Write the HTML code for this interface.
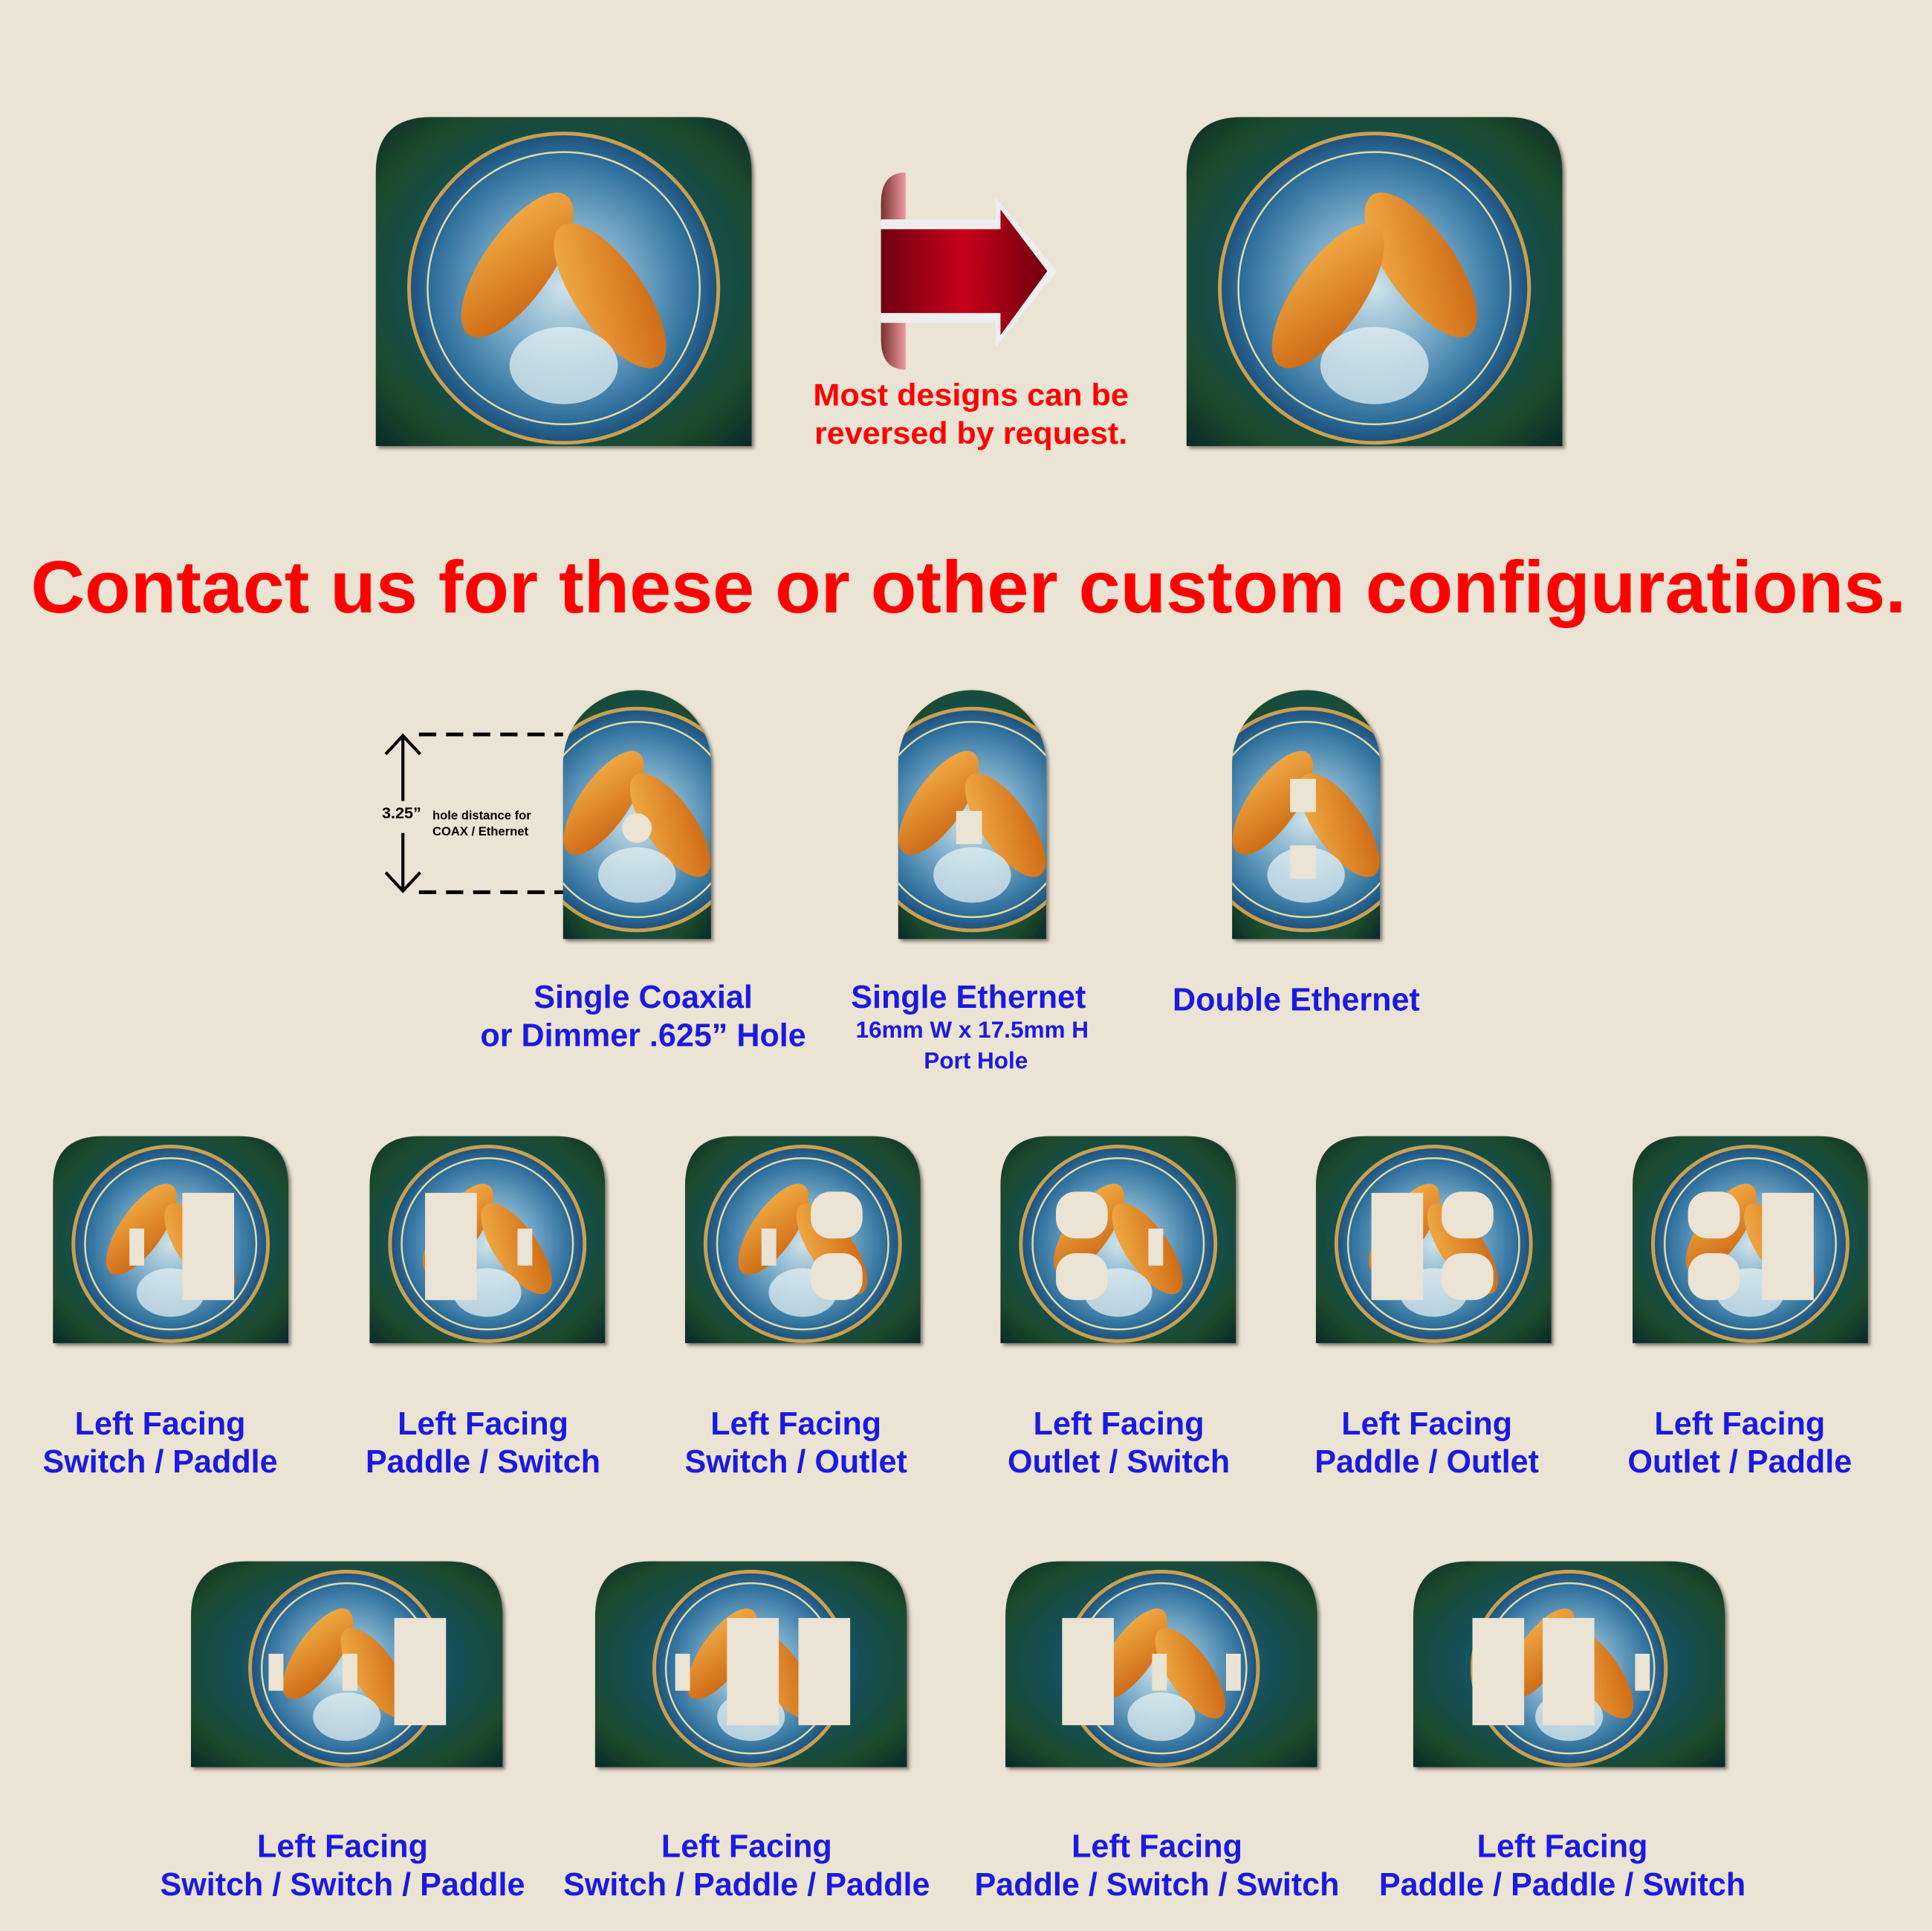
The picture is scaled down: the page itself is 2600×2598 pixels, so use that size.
<!DOCTYPE html>
<html><head><meta charset="utf-8"><style>
html,body{margin:0;padding:0;background:#ebe3d3;}
svg{display:block;}
text{font-family:"Liberation Sans",sans-serif;font-weight:bold;}
</style></head><body>
<svg id="s" width="2600" height="2598" viewBox="0 0 1568 1567" preserveAspectRatio="none">
<defs>
<radialGradient id="space" cx="0.5" cy="0.5" r="0.7">
<stop offset="0" stop-color="#2a7f9a"/><stop offset="0.5" stop-color="#14505a"/><stop offset="0.8" stop-color="#1c4a2c"/><stop offset="1" stop-color="#0a2a2a"/></radialGradient>
<radialGradient id="disc" cx="0.5" cy="0.5" r="0.5">
<stop offset="0" stop-color="#cfe3ea"/><stop offset="0.5" stop-color="#6fa3c3"/><stop offset="0.85" stop-color="#2e6f9c"/><stop offset="1" stop-color="#1d4f78"/></radialGradient>
<linearGradient id="fish" x1="0" y1="0" x2="1" y2="1"><stop offset="0" stop-color="#f6b34a"/><stop offset="1" stop-color="#c8600f"/></linearGradient>
<linearGradient id="arrowG" x1="0" y1="0" x2="1" y2="0"><stop offset="0" stop-color="#6e0010"/><stop offset="0.5" stop-color="#c8001a"/><stop offset="1" stop-color="#6e0010"/></linearGradient>
<linearGradient id="curl" x1="0" y1="0" x2="1" y2="0"><stop offset="0" stop-color="#7a3030"/><stop offset="1" stop-color="#ee98a0"/></linearGradient>
<filter id="sh" x="-5%" y="-5%" width="115%" height="115%"><feDropShadow dx="2" dy="2" stdDeviation="1.5" flood-color="#000" flood-opacity="0.45"/></filter>
</defs>
<rect width="1568" height="1567" fill="#ebe3d3"/>
<g id="plates"></g>
<g>
<path d="M735 140 Q715 140 715 165 L715 180 L735 180 Z" fill="url(#curl)"/>
<path d="M735 300 Q715 300 715 275 L715 260 L735 260 Z" fill="url(#curl)"/>
<path d="M715 178 L808 178 L808 160 L858 220 L808 282 L808 262 L715 262 Z" fill="#eee"/>
<path d="M715 186 L812 186 L812 170 L850 220 L812 272 L812 254 L715 254 Z" fill="url(#arrowG)"/>
</g>
<g fill="#ff0000" text-anchor="middle" font-size="25">
<text x="788" y="329" textLength="256" lengthAdjust="spacingAndGlyphs">Most designs can be</text>
<text x="788" y="360" textLength="254" lengthAdjust="spacingAndGlyphs">reversed by request.</text>
</g>
<text x="786" y="497" text-anchor="middle" font-size="60" fill="#ff0000" textLength="1522" lengthAdjust="spacingAndGlyphs">Contact us for these or other custom configurations.</text>
<g stroke="#000" fill="none">
<line x1="340" y1="596" x2="457" y2="596" stroke-width="3" stroke-dasharray="14,8"/>
<line x1="340" y1="724" x2="457" y2="724" stroke-width="3" stroke-dasharray="14,8"/>
<line x1="327" y1="598" x2="327" y2="650" stroke-width="2.5"/>
<line x1="327" y1="676" x2="327" y2="722" stroke-width="2.5"/>
<path d="M313 612 L327 597 L341 612 M313 708 L327 723 L341 708" stroke-width="2.5"/>
</g>
<text x="310" y="664" font-size="13" fill="#000">3.25”</text>
<text x="351" y="665" font-size="10" fill="#000">hole distance for</text>
<text x="351" y="678" font-size="10" fill="#000">COAX / Ethernet</text>
<g id="labels" fill="#1a1ae0" text-anchor="middle" font-size="26"></g>
</svg>
<script>
const NS="http://www.w3.org/2000/svg";
const P=document.getElementById('plates');
const L=document.getElementById('labels');
const BG="#ebe3d3";
function el(t,a,parent){const e=document.createElementNS(NS,t);for(const k in a)e.setAttribute(k,a[k]);parent.appendChild(e);return e;}
function platePath(x,y,w,h,r){return `M${x} ${y+h} L${x} ${y+r} Q${x} ${y} ${x+r} ${y} L${x+w-r} ${y} Q${x+w} ${y} ${x+w} ${y+r} L${x+w} ${y+h} Z`;}
function arch(x,y,w,h){const r=w/2;return `M${x} ${y+h} L${x} ${y+r} A${r} ${r} 0 0 1 ${x+w} ${y+r} L${x+w} ${y+h} Z`;}
function plate(name,x,y,w,h,r,cuts,tall,flip){
  const g=el('g',{filter:'url(#sh)'},P);
  
  
  const clipId='c'+name;
  const cp=el('clipPath',{id:clipId},g);
  const d=tall?arch(x,y,w,h):platePath(x,y,w,h,r);
  el('path',{d:d},cp);
  el('path',{d:d,fill:'url(#space)'},g);
  const inner=el('g',{'clip-path':`url(#${clipId})`},g);
  const cx=x+w/2, cy=y+h*0.52, R=tall?w*0.75:h*0.47;
  el('circle',{cx:cx,cy:cy,r:R,fill:'url(#disc)',stroke:'#c9a050','stroke-width':3},inner);
  el('circle',{cx:cx,cy:cy,r:R*0.88,fill:'none',stroke:'#e8d9a0','stroke-width':1.5},inner);
  const s=flip?-1:1;
  el('ellipse',{cx:cx-s*R*0.3,cy:cy-R*0.15,rx:R*0.22,ry:R*0.55,fill:'url(#fish)',transform:`rotate(${s*35} ${cx-s*R*0.3} ${cy-R*0.15})`},inner);
  el('ellipse',{cx:cx+s*R*0.3,cy:cy+R*0.05,rx:R*0.22,ry:R*0.55,fill:'url(#fish)',transform:`rotate(${-s*35} ${cx+s*R*0.3} ${cy+R*0.05})`},inner);
  el('ellipse',{cx:cx,cy:cy+R*0.5,rx:R*0.35,ry:R*0.25,fill:'#e9f3f5',opacity:0.7},inner);
  (cuts||[]).forEach(c=>{
    if(c.t==='o'){
      el('rect',{x:x+c.x,y:y+c.y,width:42,height:38,rx:16,fill:BG},g);
      el('rect',{x:x+c.x,y:y+c.y+50,width:42,height:38,rx:16,fill:BG},g);
    } else if(c.t==='p'){el('rect',{x:x+c.x,y:y+c.y,width:42,height:87,fill:BG},g);}
    else if(c.t==='s'){el('rect',{x:x+c.x,y:y+c.y,width:12,height:30,fill:BG},g);}
    else if(c.t==='c'){el('circle',{cx:x+c.x,cy:y+c.y,r:12,fill:BG},g);}
    else if(c.t==='e'){el('rect',{x:x+c.x,y:y+c.y,width:21,height:27,fill:BG},g);}
  });
}
function label(name,x,y,lines,sizes){
  lines.forEach((t,i)=>{
    const e=el('text',{x:x,y:y+i*(sizes&&sizes[i]?25:31),'font-size':(sizes&&sizes[i])||26},L);
    e.textContent=t;
    
    
  });
}
plate('original-plate',305,95,305,267,45,[],false,false);
plate('reversed-plate',963,95,305,267,45,[],false,true);
plate('coax-plate',457,560,120,202,0,[{t:'c',x:60,y:112}],true);
plate('ethernet-plate',729,560,120,202,0,[{t:'e',x:47,y:98}],true);
plate('double-ethernet-plate',1000,560,120,202,0,[{t:'e',x:47,y:72},{t:'e',x:47,y:126}],true);
label('coax-label',522,818,['Single Coaxial','or Dimmer .625” Hole']);
label('ethernet-label',786,818,['Single Ethernet']);
label('ethernet-size',789,842,['16mm W x 17.5mm H'],[19]);
label('ethernet-port',792,867,['Port Hole'],[19]);
label('double-ethernet-label',1052,820,['Double Ethernet']);
const r3=[[43,[{t:'s',x:62,y:75},{t:'p',x:105,y:46}],['Left Facing','Switch / Paddle'],130],
[300,[{t:'p',x:45,y:46},{t:'s',x:120,y:75}],['Left Facing','Paddle / Switch'],392],
[556,[{t:'s',x:62,y:75},{t:'o',x:102,y:45}],['Left Facing','Switch / Outlet'],646],
[812,[{t:'o',x:45,y:45},{t:'s',x:120,y:75}],['Left Facing','Outlet / Switch'],908],
[1068,[{t:'p',x:45,y:46},{t:'o',x:102,y:45}],['Left Facing','Paddle / Outlet'],1158],
[1325,[{t:'o',x:45,y:45},{t:'p',x:105,y:46}],['Left Facing','Outlet / Paddle'],1412]];
r3.forEach((p,i)=>{plate('double-plate-'+(i+1),p[0],922,191,168,40,p[1],false,false);label('double-label-'+(i+1),p[3],1164,p[2]);});
const r4=[[155,[{t:'s',x:63,y:75},{t:'s',x:123,y:75},{t:'p',x:165,y:46}],['Left Facing','Switch / Switch / Paddle'],278],
[483,[{t:'s',x:65,y:75},{t:'p',x:107,y:46},{t:'p',x:165,y:46}],['Left Facing','Switch / Paddle / Paddle'],606],
[816,[{t:'p',x:46,y:46},{t:'s',x:119,y:75},{t:'s',x:179,y:75}],['Left Facing','Paddle / Switch / Switch'],939],
[1147,[{t:'p',x:48,y:46},{t:'p',x:105,y:46},{t:'s',x:180,y:75}],['Left Facing','Paddle / Paddle / Switch'],1268]];
r4.forEach((p,i)=>{plate('triple-plate-'+(i+1),p[0],1267,253,167,45,p[1],false,false);label('triple-label-'+(i+1),p[3],1507,p[2]);});
</script>
</body></html>
